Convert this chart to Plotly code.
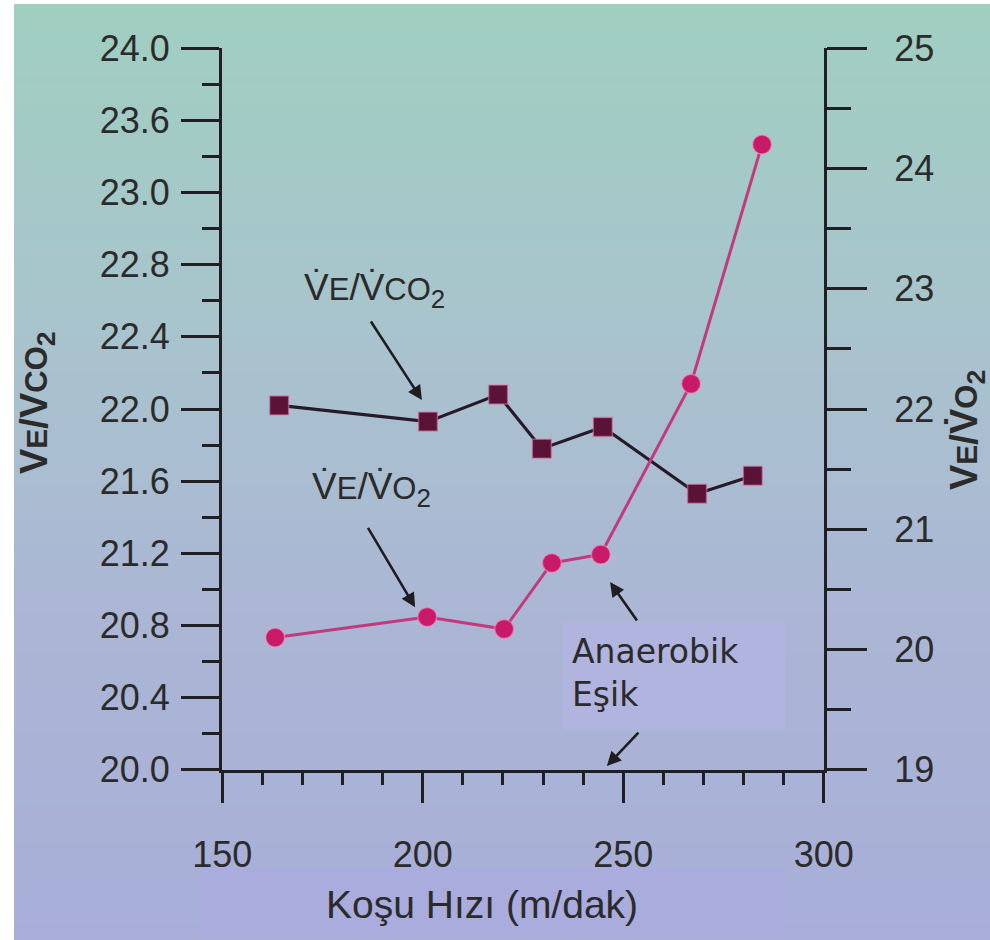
import plotly.graph_objects as go

# ---------------- data ----------------
speed_co2 = [164.2, 201.3, 218.8, 229.7, 244.9, 268.4, 282.3]
ve_vco2 = [22.02, 21.93, 22.08, 21.78, 21.90, 21.53, 21.63]

speed_o2 = [163.2, 201.1, 220.3, 232.2, 244.4, 266.9, 284.6]
ve_vo2 = [20.10, 20.27, 20.17, 20.72, 20.79, 22.21, 24.20]

x_ticks = [150, 200, 250, 300]
left_tickvals = [20.0, 20.4, 20.8, 21.2, 21.6, 22.0, 22.4, 22.8, 23.2, 23.6, 24.0]
left_ticktext = ["20.0", "20.4", "20.8", "21.2", "21.6", "22.0", "22.4", "22.8", "23.0", "23.6", "24.0"]
right_tickvals = [19, 20, 21, 22, 23, 24, 25]

# ---------------- geometry helpers (pixel -> paper) ----------------
W, H = 990, 940
L, R, T, B = 222, 166, 48, 170
PW, PH = W - L - R, H - T - B


def px(x):
    return (x - L) / PW


def py(y):
    return (H - B - y) / PH


TXT = "#2b2b2b"
AX = "#1f1f24"
FONT = "Liberation Sans, Arial, sans-serif"

fig = go.Figure()

fig.add_trace(go.Scatter(
    x=speed_co2, y=ve_vco2, mode="lines+markers", yaxis="y",
    line=dict(color="#261a28", width=3.2),
    marker=dict(symbol="square", size=19, color="#5b1237",
                line=dict(color="rgba(225,120,165,0.55)", width=1.5)),
    showlegend=False, hoverinfo="x+y"))

fig.add_trace(go.Scatter(
    x=speed_o2, y=ve_vo2, mode="lines+markers", yaxis="y2",
    line=dict(color="#c23a7e", width=3),
    marker=dict(symbol="circle", size=19, color="#c81a68",
                line=dict(color="rgba(240,150,190,0.6)", width=1.5)),
    showlegend=False, hoverinfo="x+y"))

# ---------------- background gradient bands ----------------
stops = [(0, (160, 207, 192)), (300, (168, 197, 204)), (600, (171, 183, 213)), (940, (168, 174, 216))]
shapes = []
band = 10
for y0 in range(4, H, band):
    yc = y0 + band / 2
    for i in range(len(stops) - 1):
        if stops[i][0] <= yc <= stops[i + 1][0]:
            t = (yc - stops[i][0]) / (stops[i + 1][0] - stops[i][0])
            c = [round(stops[i][1][k] + t * (stops[i + 1][1][k] - stops[i][1][k])) for k in range(3)]
            break
    shapes.append(dict(type="rect", xref="paper", yref="paper", layer="below",
                       x0=px(14), x1=px(W), y0=py(min(y0 + band, H)), y1=py(y0),
                       line=dict(width=0), fillcolor=f"rgb({c[0]},{c[1]},{c[2]})"))
# lighter boxes behind labels
shapes.append(dict(type="rect", xref="paper", yref="paper", layer="below",
                   x0=px(200), x1=px(785), y0=py(937), y1=py(868),
                   line=dict(width=0), fillcolor="rgb(170,172,221)"))
shapes.append(dict(type="rect", xref="paper", yref="paper", layer="below",
                   x0=px(563), x1=px(785), y0=py(730), y1=py(622),
                   line=dict(width=0), fillcolor="rgb(176,180,222)"))

# ---------------- annotations ----------------
ann = []


def arrow(x, y, ax, ay, yref="y"):
    ann.append(dict(x=x, y=y, xref="x", yref=yref, ax=ax, ay=ay, text="",
                    showarrow=True, arrowhead=2, arrowsize=1.1, arrowwidth=2.6,
                    arrowcolor="#1e1e22"))


arrow(199.8, 22.05, -52, -80)
arrow(198.1, 20.90, -48, -81)
arrow(246.7, 21.04, 28, 40)
arrow(245.9, 20.02, 33, -35)


def label(xp, yp, text, size, family=FONT, angle=0, xanchor="center", align="center"):
    ann.append(dict(x=px(xp), y=py(yp), xref="paper", yref="paper", showarrow=False,
                    xanchor=xanchor, yanchor="middle", align=align, textangle=angle,
                    text=text, font=dict(family=family, size=size, color=TXT)))


label(374, 290,
      "V\u0307<span style='font-size:31px'>E</span>/V\u0307<span style='font-size:31px'>CO</span><sub>2</sub>", 37)
label(371, 489,
      "V\u0307<span style='font-size:31px'>E</span>/V\u0307<span style='font-size:31px'>O</span><sub>2</sub>", 37)
label(570, 673, "Anaerobik<br>Eşik", 33, family="DejaVu Sans", xanchor="left", align="left")

# axis titles
label(482, 904, "Koşu Hızı (m/dak)", 39)
label(37, 403,
      "<b>V<span style='font-size:30px'>E</span>/V<span style='font-size:31px'>CO</span><sub>2</sub></b>",
      38, angle=-90)
label(967, 430,
      "<b>V<span style='font-size:30px'>E</span>/V\u0307<span style='font-size:31px'>O</span><sub>2</sub></b>",
      38, angle=-90)

tickfont = dict(family=FONT, size=36, color=TXT)

fig.update_layout(
    width=W, height=H,
    margin=dict(l=L, r=R, t=T, b=B),
    paper_bgcolor="white", plot_bgcolor="rgba(0,0,0,0)",
    shapes=shapes, annotations=ann,
    xaxis=dict(range=[149.95, 300.05], tickvals=x_ticks, ticks="outside", ticklen=30,
               tickwidth=2.5, tickcolor=AX, showline=True, linewidth=3, linecolor=AX,
               showgrid=False, zeroline=False, tickfont=tickfont, ticklabelstandoff=21,
               minor=dict(dtick=10, tick0=150, ticks="outside", ticklen=12, tickwidth=2.5,
                          tickcolor=AX, showgrid=False)),
    yaxis=dict(range=[19.998, 24.002], tickvals=left_tickvals, ticktext=left_ticktext,
               ticks="outside", ticklen=38, tickwidth=2.5, tickcolor=AX,
               showline=True, linewidth=3, linecolor=AX, showgrid=False, zeroline=False,
               tickfont=tickfont, ticklabelstandoff=4,
               minor=dict(dtick=0.2, tick0=20, ticks="outside", ticklen=17, tickwidth=2.5,
                          tickcolor=AX, showgrid=False)),
    yaxis2=dict(range=[18.998, 25.002], overlaying="y", side="right", tickvals=right_tickvals,
                ticks="outside", ticklen=40, tickwidth=2.5, tickcolor=AX,
                showline=True, linewidth=3, linecolor=AX, showgrid=False, zeroline=False,
                tickfont=tickfont, ticklabelstandoff=20,
                minor=dict(dtick=0.5, tick0=19, ticks="outside", ticklen=24, tickwidth=2.5,
                           tickcolor=AX, showgrid=False)),
)

fig.write_html("out.html")
